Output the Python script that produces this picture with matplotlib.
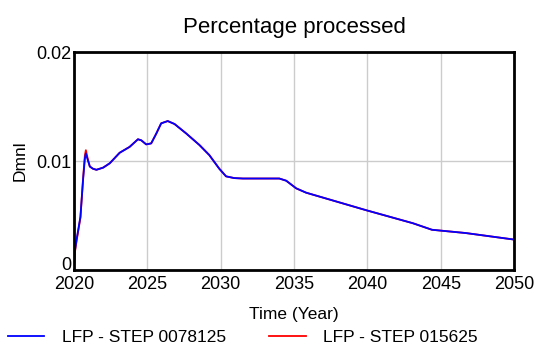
import numpy as np
import matplotlib.pyplot as plt
from matplotlib.transforms import ScaledTranslation

plt.rcParams['font.family'] = ['Liberation Sans', 'DejaVu Sans']

# values
years = [2020.0, 2020.08, 2020.18, 2020.45, 2020.63, 2020.75, 2020.82, 2020.95,
         2021.09, 2021.3, 2021.54, 2022.0, 2022.45, 2023.12, 2023.8, 2024.37,
         2024.6, 2024.93, 2025.27, 2025.61, 2025.95, 2026.4, 2026.86, 2027.65,
         2028.56, 2029.23, 2029.91, 2030.37, 2030.93, 2031.52, 2034.0, 2034.47,
         2035.15, 2035.83, 2039.9, 2043.1, 2044.4, 2046.7, 2050.0]
step_0078125 = [0.0, 0.0018, 0.00275, 0.0049, 0.0083, 0.0102, 0.0107, 0.0101,
                0.0095, 0.0093, 0.0092, 0.0094, 0.0098, 0.01076, 0.0113, 0.0120,
                0.0119, 0.01153, 0.01162, 0.0125, 0.01346, 0.01367, 0.0134, 0.01254,
                0.01147, 0.01055, 0.0093, 0.0086, 0.00844, 0.0084, 0.0084, 0.0082,
                0.0075, 0.0071, 0.0055, 0.0043, 0.0037, 0.0034, 0.0028]
step_015625 = [0.0, 0.0017, 0.0026, 0.0048, 0.0084, 0.0105, 0.0110, 0.0102,
               0.0095, 0.0093, 0.0092, 0.0094, 0.0098, 0.01076, 0.0113, 0.0120,
               0.0119, 0.01153, 0.01162, 0.0125, 0.01346, 0.01367, 0.0134, 0.01254,
               0.01147, 0.01055, 0.0093, 0.0086, 0.00844, 0.0084, 0.0084, 0.0082,
               0.0075, 0.0071, 0.0055, 0.0043, 0.0037, 0.0034, 0.0028]
labels = ["LFP - STEP 0078125", "LFP - STEP 015625"]

fig = plt.figure(figsize=(5.35, 3.54), dpi=100)
ax = fig.add_axes([0.138, 0.237, 0.823, 0.616])

l2, = ax.plot(years, step_015625, color="red", lw=1.3)
l1, = ax.plot(years, step_0078125, color="blue", lw=1.3)

ax.set_xlim(2020, 2050)
ax.set_ylim(0, 0.02)
ax.set_xticks([2020, 2025, 2030, 2035, 2040, 2045, 2050])
ax.set_yticks([0, 0.01, 0.02])
ax.set_yticklabels(["0", "0.01", "0.02"])
ax.grid(color="#cccccc", lw=1)
ax.tick_params(length=0, labelsize=13)
ax.tick_params(axis="x", pad=4)
ax.tick_params(axis="y", pad=2)
for s in ax.spines.values():
    s.set_linewidth(2)

# nudge the "0" up a little so it does not run into "2020"
zero = ax.get_yticklabels()[0]
zero.set_transform(zero.get_transform() + ScaledTranslation(0, 5 / 72, fig.dpi_scale_trans))

ax.set_title("Percentage processed", fontsize=16, pad=14)
ax.set_xlabel("Time (Year)", fontsize=12.5, labelpad=10)
ax.set_ylabel("Dmnl", fontsize=12.5, labelpad=6)

fig.legend([l1, l2], labels, loc="lower center", ncol=2, frameon=False,
           fontsize=12.5, bbox_to_anchor=(0.454, -0.02), columnspacing=2.5,
           handlelength=2.1, handletextpad=1.0)

plt.savefig("out.png")
